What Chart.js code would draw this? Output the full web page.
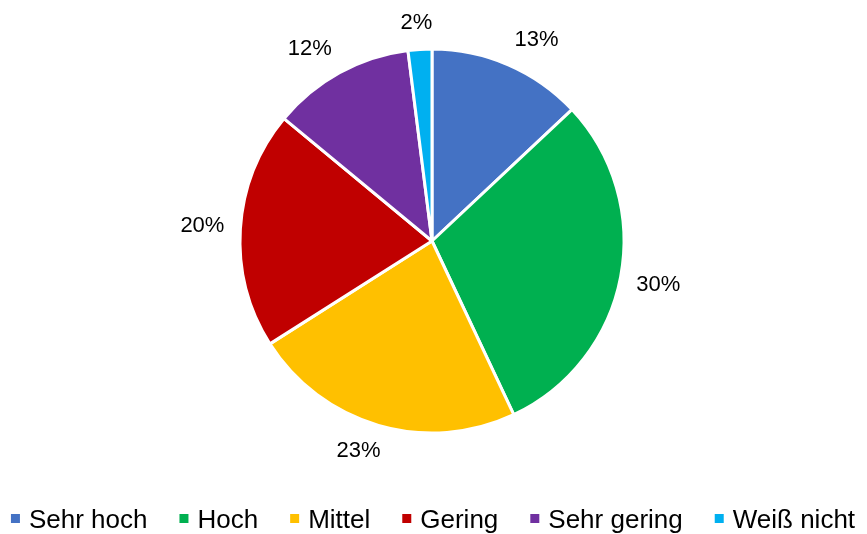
<!DOCTYPE html>
<html>
<head>
<meta charset="utf-8">
<script src="https://cdn.jsdelivr.net/npm/chart.js@4.4.1/dist/chart.umd.min.js"></script>
<style>
  html, body { margin: 0; padding: 0; background: #fff; overflow: hidden; }
  #wrap { width: 867px; height: 534px; }
</style>
</head>
<body>
<div id="wrap"><canvas id="pieChart"></canvas></div>
<script>
// Einschätzung – Anteile in Prozent
const categories = ['Sehr hoch', 'Hoch', 'Mittel', 'Gering', 'Sehr gering', 'Weiß nicht'];
const shares = [13, 30, 23, 20, 12, 2];
const sliceColors = ['#4472C4', '#00B050', '#FFC000', '#C00000', '#7030A0', '#00B0F0'];

const FONT = '"Liberation Sans", Arial, sans-serif';

function clamp(v) { return Math.max(-1, Math.min(1, v)); }

// Prozentwerte außerhalb der Segmente (ähnlich "Beste Anpassung")
const outsideLabels = {
    id: 'outsideLabels',
    afterDatasetsDraw(chart) {
        const ctx = chart.ctx;
        const meta = chart.getDatasetMeta(0);
        ctx.save();
        ctx.font = '22px ' + FONT;
        ctx.fillStyle = '#000';
        ctx.textAlign = 'center';
        ctx.textBaseline = 'middle';
        meta.data.forEach(function(arc, i) {
            const p = arc.getProps(['x', 'y', 'startAngle', 'endAngle', 'outerRadius'], true);
            const mid = (p.startAngle + p.endAngle) / 2;
            const text = shares[i] + '%';
            const w = ctx.measureText(text).width;
            const h = 20;
            const c = Math.cos(mid), s = Math.sin(mid);
            const r = p.outerRadius + 16;
            const x = p.x + c * r + (w / 2) * clamp(c * 2.5);
            const y = p.y + s * r + (h / 2) * clamp(s * 2.5);
            ctx.fillText(text, x, y);
        });
        ctx.restore();
    }
};

// Legende unten: kleines Quadrat + Text, zentriert
const bottomLegend = {
    id: 'bottomLegend',
    afterDraw(chart) {
        const ctx = chart.ctx;
        const box = 9, gapText = 9, gapItem = 32;
        ctx.save();
        ctx.font = '26px ' + FONT;
        ctx.textAlign = 'left';
        ctx.textBaseline = 'alphabetic';
        const widths = categories.map(function(t) { return ctx.measureText(t).width; });
        let total = 0;
        widths.forEach(function(w, i) {
            total += box + gapText + w + (i < widths.length - 1 ? gapItem : 0);
        });
        let x = 433 - total / 2;
        const baseline = 528;
        categories.forEach(function(t, i) {
            ctx.fillStyle = sliceColors[i];
            ctx.fillRect(x, baseline - 14, box, box);
            ctx.fillStyle = '#000';
            ctx.fillText(t, x + box + gapText, baseline);
            x += box + gapText + widths[i] + gapItem;
        });
        ctx.restore();
    }
};

document.addEventListener('DOMContentLoaded', function() {
    const ctx = document.getElementById('pieChart').getContext('2d');
    new Chart(ctx, {
        type: 'pie',
        data: {
            labels: categories,
            datasets: [{
                data: shares,
                backgroundColor: sliceColors,
                borderColor: '#ffffff',
                borderWidth: 3
            }]
        },
        options: {
            responsive: true,
            maintainAspectRatio: false,
            animation: false,
            radius: 192,
            layout: { padding: { top: 0, left: 0, right: 3, bottom: 52 } },
            plugins: {
                tooltip: { enabled: false },
                legend: { display: false }
            }
        },
        plugins: [outsideLabels, bottomLegend]
    });
});
</script>
</body>
</html>
